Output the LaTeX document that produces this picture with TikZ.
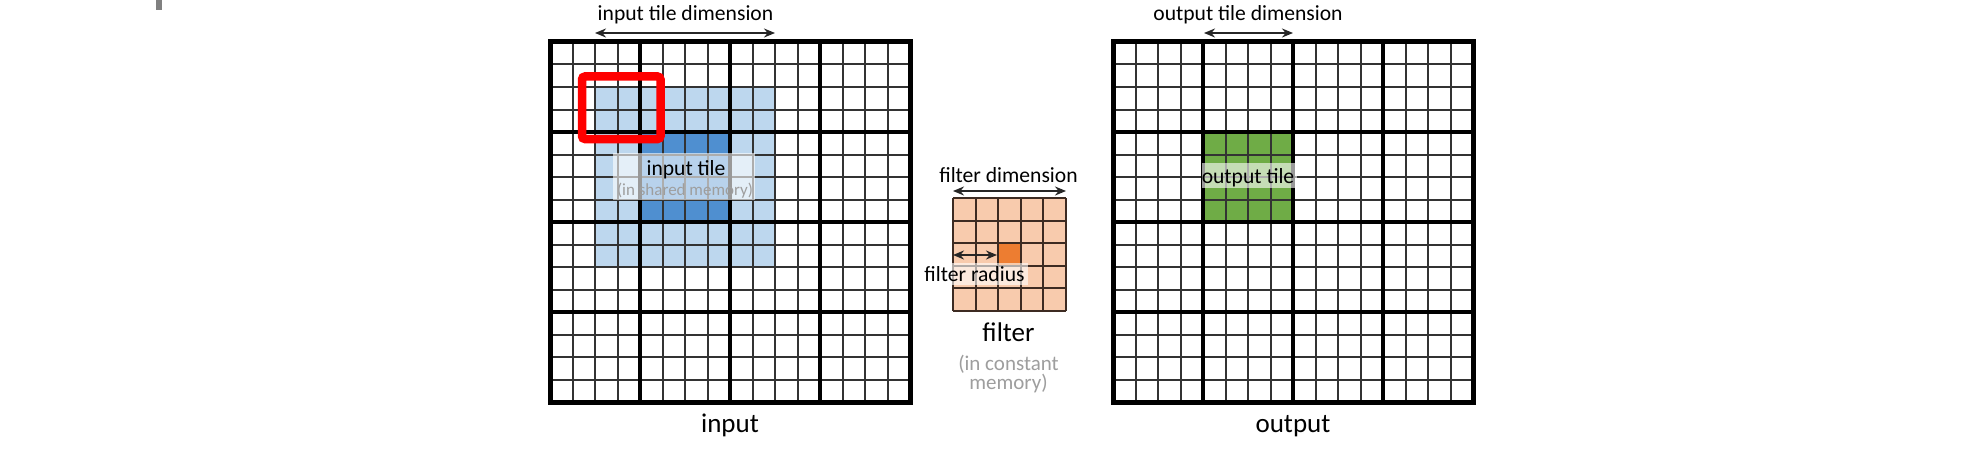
\documentclass[tikz,border=0pt]{standalone}
\usepackage{fontspec}
\setmainfont{Carlito}
\usetikzlibrary{arrows.meta}
\definecolor{lblue}{HTML}{BDD7EE}
\definecolor{dblue}{HTML}{4F8FD0}
\definecolor{tgreen}{HTML}{6FAC46}
\definecolor{lorange}{HTML}{F8CBAD}
\definecolor{dorange}{HTML}{ED7D31}
\definecolor{fgrid}{HTML}{3D2B22}
\definecolor{greytext}{HTML}{9E9E9E}
\definecolor{markgrey}{HTML}{808080}
\newcommand\mybiggrid[2]{%
  \foreach \i in {1,...,15}{
    \draw[thingrid] ({#1+\i*22.5},#2) -- ++(0,360);
    \draw[thingrid] (#1,{#2+\i*22.5}) -- ++(360,0);
  }
  \foreach \i in {1,2,3}{
    \draw[thickgrid] ({#1+\i*90},#2) -- ++(0,360);
    \draw[thickgrid] (#1,{#2+\i*90}) -- ++(360,0);
  }
  \draw[thickgrid, line width=5pt] (#1,#2) rectangle ++(360,360);
}
\begin{document}
\begin{tikzpicture}[x=1pt,y=-1pt,
  thingrid/.style={line width=2pt, black!80},
  thickgrid/.style={line width=4.5pt, black, line cap=rect},
  fline/.style={line width=2pt, fgrid},
  dimarrow/.style={line width=1.8pt, black!85, {Stealth[length=11pt,width=9pt]}-{Stealth[length=11pt,width=9pt]}},
  lbl/.style={font=\fontsize{21.6}{24}\selectfont, inner sep=0pt, anchor=base},
  big/.style={font=\fontsize{27}{30}\selectfont, inner sep=0pt, anchor=base},
  note/.style={font=\fontsize{17}{20}\selectfont, text=greytext, inner sep=0pt, anchor=base},
  fnote/.style={font=\fontsize{21}{24}\selectfont, text=greytext, inner sep=0pt, anchor=base},
  veil/.style={fill=white, fill opacity=0.6, inner sep=0pt, draw=none}
]
\useasboundingbox (0,0) rectangle (1968,460);
\fill[white] (0,0) rectangle (1968,460);
% small mark at top left
\fill[markgrey] (156,0) rectangle (162,10);

% ---------- input ----------
\fill[lblue] (595,87) rectangle (775,267);
\fill[dblue] (640,132) rectangle (730,222);
\mybiggrid{550}{42}
\node[draw=red, line width=8.5pt, rounded corners=3pt, minimum width=78.5pt, minimum height=62.5pt, inner sep=0pt] (redbox) at (621.25,107.75) {};
\node[veil, minimum width=142pt, minimum height=47pt] (inbox) at (684,176.5) {};
\node[lbl] (intile) at (686,175) {input tile};
\node[note] (inshared) at (685,195) {(in shared memory)};
\node[lbl] (indimtxt) at (685.5,21) {input tile dimension};
\coordinate (indimL) at (595,33);
\coordinate (indimR) at (775,33);
\draw[dimarrow] (indimL) -- (indimR);
\node[big] (inlabel) at (730,432) {input};

% ---------- filter ----------
\fill[lorange] (953,198) rectangle (1066,311);
\fill[dorange] (998.2,243.2) rectangle (1020.8,265.8);
\foreach \i in {0,...,5}{
  \draw[fline] ({953+\i*22.6},198) -- ++(0,113);
  \draw[fline] (953,{198+\i*22.6}) -- ++(113,0);
}
\node[lbl] (fdimtxt) at (1008.5,182) {filter dimension};
\coordinate (fdimL) at (953,191);
\coordinate (fdimR) at (1066,191);
\draw[dimarrow] (fdimL) -- (fdimR);
\coordinate (fradL) at (953,255);
\coordinate (fradR) at (997,255);
\draw[dimarrow] (fradL) -- (fradR);
\node[veil, minimum width=108pt, minimum height=22pt] (fradbox) at (974,274) {};
\node[lbl] (fradtxt) at (974.5,281) {filter radius};
\node[big] (flabel) at (1008.5,341) {filter};
\node[fnote] (fconst1) at (1008.5,370) {(in constant};
\node[fnote] (fconst2) at (1008.5,389) {memory)};

% ---------- output ----------
\fill[tgreen] (1203,132) rectangle (1293,222);
\mybiggrid{1113}{42}
\node[veil, minimum width=95pt, minimum height=25pt] (outbox) at (1249.5,175.5) {};
\node[lbl] (outtile) at (1248,183) {output tile};
\node[lbl] (outdimtxt) at (1248,21) {output tile dimension};
\coordinate (outdimL) at (1204,33);
\coordinate (outdimR) at (1293,33);
\draw[dimarrow] (outdimL) -- (outdimR);
\node[big] (outlabel) at (1293,432) {output};
\end{tikzpicture}
\end{document}
